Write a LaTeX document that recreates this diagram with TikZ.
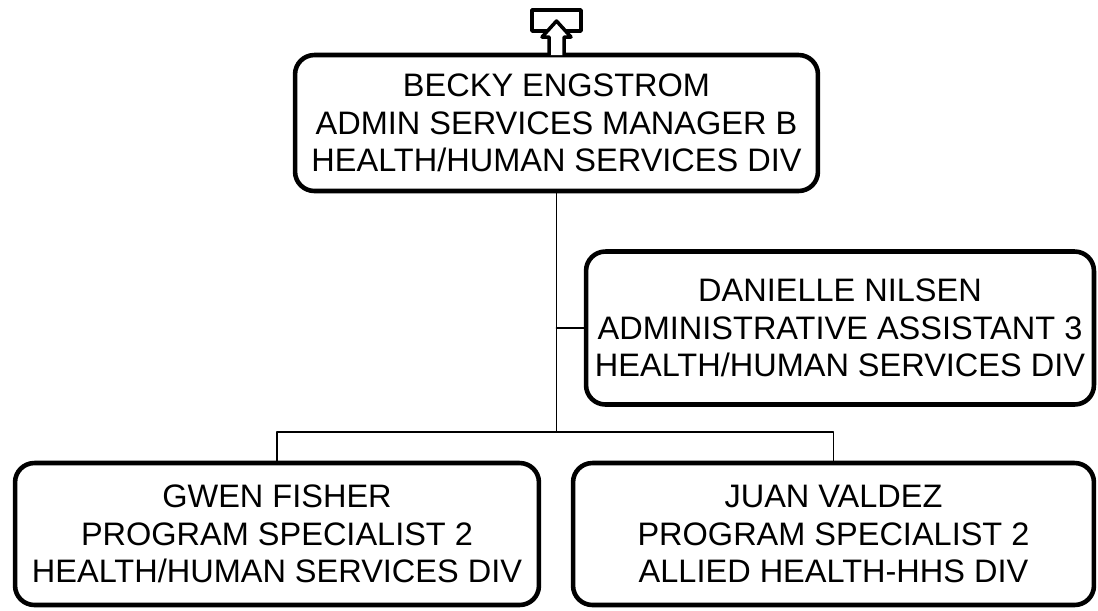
\documentclass[tikz,border=0pt]{standalone}
\usepackage{fontspec}
\setmainfont{Liberation Sans}
\begin{document}
\begin{tikzpicture}[x=0.02cm,y=-0.02cm,line cap=round,line join=round,
  person/.style={draw,line width=2.6pt,rounded corners=11pt,align=center,inner sep=0pt,
    font=\fontsize{18.5}{21.5}\selectfont},
  link/.style={line width=1.1pt}]
  \useasboundingbox (0,0) rectangle (1098,610);
  \node[person,minimum width=10.46cm,minimum height=2.72cm] (becky) at (556.5,123)
    {BECKY ENGSTROM\\ADMIN SERVICES MANAGER B\\HEALTH/HUMAN SERVICES DIV};
  \node[person,minimum width=10.16cm,minimum height=3.06cm] (danielle) at (840,328)
    {DANIELLE NILSEN\\ADMINISTRATIVE ASSISTANT 3\\HEALTH/HUMAN SERVICES DIV};
  \node[person,minimum width=10.48cm,minimum height=2.84cm] (gwen) at (277,534)
    {GWEN FISHER\\PROGRAM SPECIALIST 2\\HEALTH/HUMAN SERVICES DIV};
  \node[person,minimum width=10.42cm,minimum height=2.84cm] (juan) at (833.5,534)
    {JUAN VALDEZ\\PROGRAM SPECIALIST 2\\ALLIED HEALTH-HHS DIV};
  \coordinate (split) at (556.5,432);
  % connectors
  \draw[link] (becky.south) -- (split);
  \draw[link] (danielle.west) -- (danielle.west -| split);
  \draw[link] (gwen.north) |- (split) -| (juan.north);
  % up icon
  \draw[line width=2pt] (532,10) rectangle (581,31);
  \draw[line width=2pt,fill=white] (549,55) -- (549,37) -- (542,37) -- (556.5,21)
    -- (571,37) -- (564,37) -- (564,55);
\end{tikzpicture}
\end{document}
